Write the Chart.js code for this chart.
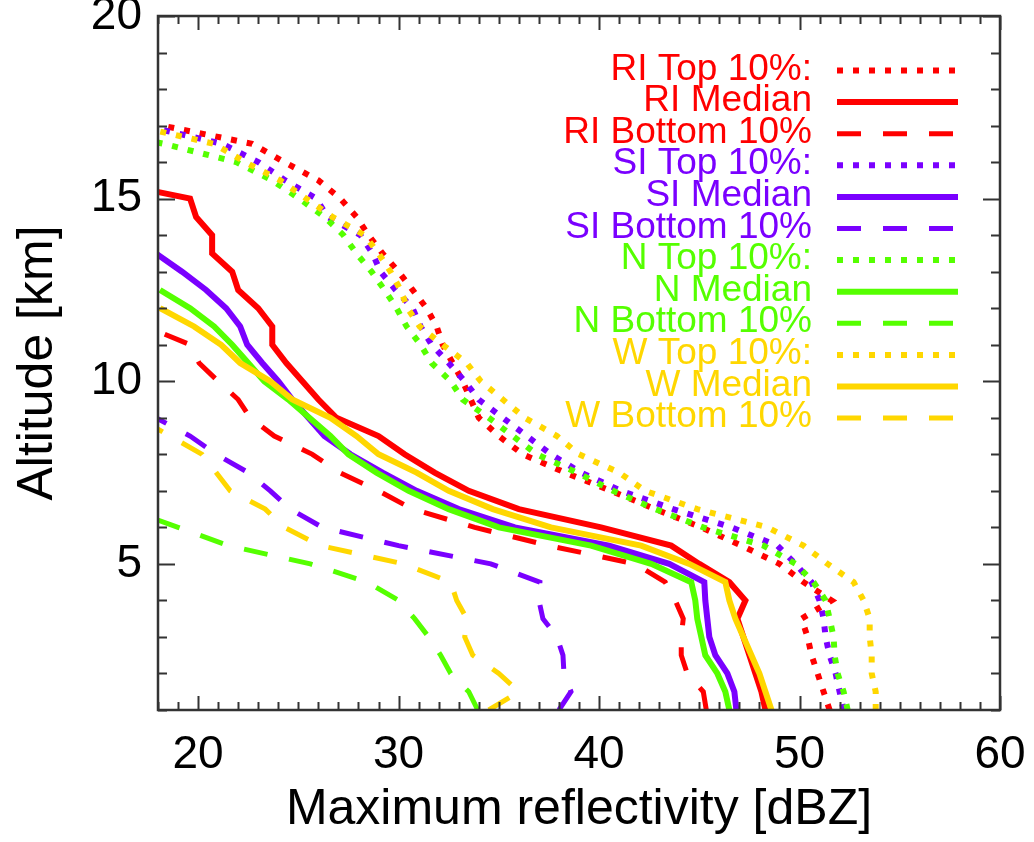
<!DOCTYPE html>
<html>
<head>
<meta charset="utf-8">
<script src="https://cdn.jsdelivr.net/npm/chart.js@4/dist/chart.umd.min.js"></script>
<style>
  html, body { margin: 0; padding: 0; background: #fff; }
  #wrap { width: 1034px; height: 842px; }
</style>
</head>
<body>
<div id="wrap"><canvas id="canvas" width="1034" height="842"></canvas></div>
<script>
// altitude levels [km], bottom up; each profile below starts at altitude[0]
const altitude = [1, 1.5, 2, 2.5, 3, 3.5, 4, 4.5, 5, 5.5, 6, 6.5, 7, 7.5, 8, 8.5, 9,
                  9.5, 10, 10.5, 11, 11.5, 12, 12.5, 13, 13.5, 14, 14.5, 15, 15.5, 16, 16.5, 17];

// maximum reflectivity [dBZ]
const riTop = [51.5, 51.2, 50.9, 50.6, 50.4, 50.1, 51.6, 50.2, 49.0, 47.1, 45.1, 42.8, 40.6, 38.3, 36.2, 35.0, 34.0,
               33.6, 33.2, 32.7, 32.2, 31.9, 31.4, 30.7, 30.0, 29.2, 28.5, 27.9, 27.1, 26.0, 24.3, 22.7, 18.2];
const riMedian = [48.3, 48.1, 47.8, 47.5, 47.2, 46.9, 47.3, 46.5, 45.0, 43.6, 40.1, 36.0, 33.5, 31.8, 30.3, 29.0, 26.9,
                  26.0, 25.2, 24.4, 23.7, 23.7, 23.0, 22.0, 21.7, 20.7, 20.7, 19.9, 19.6, 15.2];
const riBottom = [45.35, 45.2, 44.4, 44.1, 44.1, 44.2, 43.8, 43.3, 41.8, 37.5, 33.8, 30.7, 29.0, 27.05, 25.7, 23.8, 22.6,
                  22.0, 21.0, 20.05, 19.6, 17.4];
const siTop = [52.2, 52.0, 51.8, 51.5, 51.3, 51.2, 51.0, 50.6, 49.8, 48.9, 46.6, 43.7, 41.1, 39.1, 37.6, 36.4, 35.2,
               34.0, 33.3, 32.5, 31.65, 31.1, 30.7, 29.85, 29.1, 28.7, 28.1, 26.45, 25.9, 24.35, 23.0, 21.2, 17.3];
const siMedian = [46.85, 46.75, 46.4, 45.8, 45.5, 45.4, 45.3, 45.25, 43.5, 40.5, 35.8, 33.0, 30.9, 29.2, 27.6, 26.3, 25.5,
                  24.7, 24.0, 23.2, 22.45, 22.1, 21.4, 20.4, 19.2, 17.9];
const siBottom = [38.0, 38.6, 38.25, 38.2, 37.9, 37.2, 37.0, 37.05, 34.6, 30.0, 26.2, 24.6, 23.6, 22.5, 20.9, 19.6, 17.9];
const nTop = [52.4, 52.2, 51.9, 51.75, 51.7, 51.5, 51.3, 50.7, 49.8, 48.2, 45.2, 42.8, 40.7, 38.9, 36.9, 35.7, 34.5,
              33.2, 32.6, 31.65, 31.1, 30.4, 29.9, 29.3, 28.65, 27.9, 27.25, 26.3, 25.05, 23.7, 21.9, 18.3, 14.0];
const nMedian = [46.5, 46.3, 45.9, 45.3, 45.1, 44.9, 44.8, 44.6, 42.6, 39.6, 35.0, 32.5, 30.5, 28.9, 27.5, 26.6, 25.55,
                 24.5, 23.3, 22.5, 21.7, 20.8, 19.6, 18.1];
const nBottom = [33.95, 33.5, 32.6, 32.1, 31.5, 30.8, 30.0, 28.45, 25.6, 21.5, 19.0, 16.5];
const wTop = [53.8, 53.8, 53.6, 53.6, 53.5, 53.5, 53.2, 52.7, 51.4, 50.2, 48.4, 44.9, 42.3, 41.0, 39.0, 37.9, 36.3,
              35.2, 34.1, 33.4, 32.2, 31.05, 30.45, 30.1, 29.6, 29.0, 28.3, 26.7, 25.4, 24.1, 22.35, 20.8, 16.8];
const wMedian = [48.6, 48.3, 48.0, 47.6, 47.2, 46.8, 46.5, 46.3, 44.5, 42.1, 37.6, 34.7, 32.5, 30.9, 29.0, 27.9, 26.6,
                 24.7, 23.6, 22.1, 21.15, 19.8, 18.1];
const wBottom = [34.5, 36.0, 35.0, 33.7, 33.3, 33.4, 32.9, 32.6, 30.25, 26.1, 24.3, 23.35, 21.6, 20.9, 20.2, 18.6, 17.0];

const xTicks = [20, 30, 40, 50, 60];
const yTicks = [5, 10, 15, 20];

const FONT = '"Liberation Sans", Arial, Helvetica, sans-serif';

const colors = { RI: 'rgb(255,0,0)', SI: 'rgb(122,0,255)', N: 'rgb(85,255,0)', W: 'rgb(255,215,0)' };
const drawOrder = { RI: 3, SI: 2, N: 1, W: 0 };   // W ends up on top
const kinds = {
  top:    { name: ' Top 10%:',   dash: [6, 10],  width: 6 },
  median: { name: ' Median',     dash: [],       width: 6 },
  bottom: { name: ' Bottom 10%', dash: [24, 22], width: 5 }
};

const series = [
  ['RI', 'top', riTop], ['RI', 'median', riMedian], ['RI', 'bottom', riBottom],
  ['SI', 'top', siTop], ['SI', 'median', siMedian], ['SI', 'bottom', siBottom],
  ['N', 'top', nTop],   ['N', 'median', nMedian],   ['N', 'bottom', nBottom],
  ['W', 'top', wTop],   ['W', 'median', wMedian],   ['W', 'bottom', wBottom]
];

function profile(vals) {
  return vals.map(function(v, i) { return { x: v, y: altitude[i] }; });
}

const datasets = series.map(function(s) {
  const k = kinds[s[1]];
  return {
    label: s[0] + k.name,
    data: profile(s[2]),
    showLine: true,
    borderColor: colors[s[0]],
    backgroundColor: colors[s[0]],
    borderWidth: k.width,
    borderDash: k.dash,
    borderCapStyle: 'butt',
    pointRadius: 0,
    pointHoverRadius: 0,
    tension: 0,
    clip: 0,
    order: drawOrder[s[0]]
  };
});

// box with IDL style inward ticks on all four sides
const framePlugin = {
  id: 'frame',
  afterDatasetsDraw(chart) {
    const ctx = chart.ctx, a = chart.chartArea;
    const xs = chart.scales.x, ys = chart.scales.y;
    ctx.save();
    ctx.strokeStyle = '#333';
    ctx.lineWidth = 2.5;
    ctx.setLineDash([]);
    ctx.strokeRect(a.left, a.top, a.right - a.left, a.bottom - a.top);
    ctx.lineWidth = 2;
    ctx.beginPath();
    for (let v = Math.ceil(xs.min); v <= xs.max; v++) {
      const px = Math.round(xs.getPixelForValue(v)) + 0.5;
      const len = v % 10 === 0 ? 14 : 8;
      ctx.moveTo(px, a.bottom); ctx.lineTo(px, a.bottom - len);
      ctx.moveTo(px, a.top); ctx.lineTo(px, a.top + len);
    }
    for (let v = Math.ceil(ys.min); v <= ys.max; v++) {
      const py = Math.round(ys.getPixelForValue(v)) + 0.5;
      const len = v % 5 === 0 ? 17 : 9;
      ctx.moveTo(a.left, py); ctx.lineTo(a.left + len, py);
      ctx.moveTo(a.right, py); ctx.lineTo(a.right - len, py);
    }
    ctx.stroke();
    ctx.restore();
  }
};

// legend: coloured labels right aligned, line sample to the right
const legendPlugin = {
  id: 'sideLegend',
  afterDatasetsDraw(chart) {
    const ctx = chart.ctx, a = chart.chartArea;
    ctx.save();
    ctx.font = '37px ' + FONT;
    ctx.textAlign = 'right';
    ctx.textBaseline = 'alphabetic';
    chart.data.datasets.forEach(function(ds, i) {
      const y = a.top + 54.5 + i * 31.6;
      ctx.fillStyle = ds.borderColor;
      ctx.fillText(ds.label, a.right - 188, y + 9);
      ctx.strokeStyle = ds.borderColor;
      ctx.lineWidth = ds.borderWidth;
      ctx.lineCap = 'butt';
      ctx.setLineDash(ds.borderDash);
      ctx.beginPath();
      ctx.moveTo(a.right - 163, y);
      ctx.lineTo(a.right - 42, y);
      ctx.stroke();
    });
    ctx.restore();
  }
};

new Chart(document.getElementById('canvas'), {
  type: 'scatter',
  data: { datasets: datasets },
  options: {
    responsive: false,
    animation: false,
    events: [],
    layout: { padding: { top: 16, right: 34, left: 0, bottom: 0 } },
    plugins: {
      legend: { display: false },
      tooltip: { enabled: false }
    },
    scales: {
      x: {
        type: 'linear',
        min: 18,
        max: 60,
        grid: { display: false, drawTicks: false },
        border: { display: false },
        afterBuildTicks: function(scale) {
          scale.ticks = xTicks.map(function(v) { return { value: v }; });
        },
        afterFit: function(scale) {
          scale.height = 132;
          scale.paddingLeft = 0;
          scale.paddingRight = 0;
        },
        ticks: { color: '#000', padding: 18, maxRotation: 0, font: { family: FONT, size: 46 } },
        title: {
          display: true,
          text: 'Maximum reflectivity [dBZ]',
          color: '#000',
          padding: { top: 0, bottom: 2 },
          font: { family: FONT, size: 50, weight: 'normal' }
        }
      },
      y: {
        type: 'linear',
        min: 1,
        max: 20,
        grid: { display: false, drawTicks: false },
        border: { display: false },
        afterBuildTicks: function(scale) {
          scale.ticks = yTicks.map(function(v) { return { value: v }; });
        },
        afterFit: function(scale) {
          scale.width = 158;
          scale.paddingTop = 0;
          scale.paddingBottom = 0;
        },
        ticks: { color: '#000', padding: 16, font: { family: FONT, size: 46 } },
        title: {
          display: true,
          text: 'Altitude [km]',
          color: '#000',
          padding: { top: 8, bottom: 0 },
          font: { family: FONT, size: 50, weight: 'normal' }
        }
      }
    }
  },
  plugins: [framePlugin, legendPlugin]
});
</script>
</body>
</html>
